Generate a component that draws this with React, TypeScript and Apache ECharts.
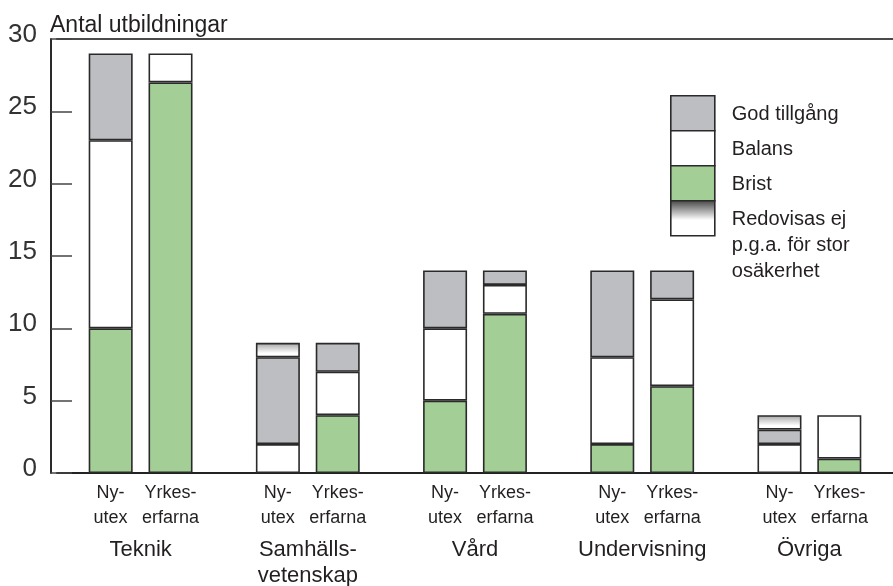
import React, { useEffect, useRef } from 'react';
import * as echarts from 'echarts';

// ---- data ----
const categories = ['Teknik', 'Samhälls-\nvetenskap', 'Vård', 'Undervisning', 'Övriga'];
const subLabelNy = ['Ny-', 'utex'];
const subLabelYrk = ['Yrkes-', 'erfarna'];
const yMin = 0;
const yMax = 30;
const yInterval = 5;

const nyBrist = [10, 0, 5, 2, 0];
const nyBalans = [13, 2, 5, 6, 2];
const nyGod = [6, 6, 4, 6, 1];
const nyRedovisas = [0, 1, 0, 0, 1];

const yrkBrist = [27, 4, 11, 6, 1];
const yrkBalans = [2, 3, 2, 6, 3];
const yrkGod = [0, 2, 1, 2, 0];

const titleText = 'Antal utbildningar';
const legendLabels = ['God tillgång', 'Balans', 'Brist', 'Redovisas ej\np.g.a. för stor\nosäkerhet'];

// ---- styles ----
const FONT = '"Liberation Sans", Arial, Helvetica, sans-serif';
const TEXT = '#231f20';
const GRAY = '#bdbec2';
const GREEN = '#a3cf97';
const WHITE = '#ffffff';
const BORDER = '#2a2a2a';

const barGradient = () =>
  new echarts.graphic.LinearGradient(0, 0, 0, 1, [
    { offset: 0, color: '#a9a9a9' },
    { offset: 0.75, color: '#ffffff' },
    { offset: 1, color: '#ffffff' },
  ]);
const legendGradient = () =>
  new echarts.graphic.LinearGradient(0, 0, 0, 1, [
    { offset: 0, color: '#4a4a4a' },
    { offset: 0.55, color: '#ffffff' },
    { offset: 1, color: '#ffffff' },
  ]);

export default function App() {
  const ref = useRef<HTMLDivElement>(null);

  useEffect(() => {
    if (!ref.current) return;
    const chart = echarts.init(ref.current, undefined, { renderer: 'svg' });

    const mk = (name: string, stack: string, data: number[], color: any) => ({
      name,
      type: 'bar',
      stack,
      data: data.map((v) => (v === 0 ? null : v)),
      barWidth: 44,
      barGap: '36%',
      itemStyle: { color, borderColor: BORDER, borderWidth: 1.6 },
      emphasis: { disabled: true },
    });

    const series = [
      mk(legendLabels[2], 'ny', nyBrist, GREEN),
      mk(legendLabels[1], 'ny', nyBalans, WHITE),
      mk(legendLabels[0], 'ny', nyGod, GRAY),
      mk('Redovisas ej', 'ny', nyRedovisas, barGradient()),
      mk(legendLabels[2], 'yrk', yrkBrist, GREEN),
      mk(legendLabels[1], 'yrk', yrkBalans, WHITE),
      mk(legendLabels[0], 'yrk', yrkGod, GRAY),
    ];

    const legendFills = [GRAY, WHITE, GREEN, legendGradient()];
    const boxH = 35;
    const legendChildren: any[] = [];
    legendLabels.forEach((label, i) => {
      legendChildren.push({
        type: 'rect',
        shape: { x: 0, y: i * boxH, width: 44, height: boxH },
        style: { fill: legendFills[i], stroke: BORDER, lineWidth: 1.6 },
      });
      const multi = label.includes('\n');
      legendChildren.push({
        type: 'text',
        x: 61,
        y: multi ? i * boxH + boxH / 2 - 13 : i * boxH + boxH / 2,
        style: {
          text: label,
          fontSize: 20,
          fontFamily: FONT,
          fill: TEXT,
          verticalAlign: multi ? 'top' : 'middle',
          lineHeight: 26,
        },
      });
    });

    chart.setOption({
      animation: false,
      title: {
        text: titleText,
        left: 50,
        top: 12,
        padding: 0,
        textStyle: { fontSize: 23, fontWeight: 'normal', color: TEXT, fontFamily: FONT },
      },
      grid: { left: 57, top: 39, width: 850, height: 434, containLabel: false },
      xAxis: [
        {
          type: 'category',
          data: categories,
          position: 'bottom',
          axisLine: { show: true, lineStyle: { color: '#222', width: 2 } },
          axisTick: { show: false },
          axisLabel: {
            interval: 0,
            margin: 6,
            color: TEXT,
            fontFamily: FONT,
            formatter: (value: string) => {
              const l1 = `{s|${subLabelNy[0]}}{s|${subLabelYrk[0]}}`;
              const l2 = `{s|${subLabelNy[1]}}{s|${subLabelYrk[1]}}`;
              const grp = value
                .split('\n')
                .map((t, i) => `{${i === 0 ? 'g' : 'h'}|${t}}`)
                .join('\n');
              return [l1, l2, grp].join('\n');
            },
            rich: {
              s: { width: 60, align: 'center', fontSize: 18, lineHeight: 25, color: TEXT, fontFamily: FONT },
              g: { align: 'center', fontSize: 22, lineHeight: 38, color: TEXT, fontFamily: FONT },
              h: { align: 'center', fontSize: 22, lineHeight: 14, color: TEXT, fontFamily: FONT },
            },
          },
          splitLine: { show: false },
        },
        {
          type: 'category',
          data: categories,
          position: 'top',
          axisLine: { show: true, lineStyle: { color: '#4a4a4a', width: 2 } },
          axisTick: { show: false },
          axisLabel: { show: false },
          splitLine: { show: false },
        },
      ],
      yAxis: {
        type: 'value',
        min: yMin,
        max: yMax,
        interval: yInterval,
        offset: 6,
        axisLine: { show: true, lineStyle: { color: '#2a2a2a', width: 2 } },
        axisTick: { show: true, inside: true, length: 21, lineStyle: { color: '#444', width: 1.5 } },
        axisLabel: {
          fontSize: 26,
          color: '#333',
          fontFamily: FONT,
          margin: 14,
          verticalAlign: 'bottom',
          lineHeight: 12,
        },
        splitLine: { show: false },
      },
      series,
      graphic: [
        {
          type: 'group',
          left: 670,
          top: 95,
          children: legendChildren,
        },
      ],
    });

    return () => chart.dispose();
  }, []);

  return (
    <div
      ref={ref}
      style={{ position: 'fixed', left: 0, top: 0, width: 893, height: 586 }}
    />
  );
}
